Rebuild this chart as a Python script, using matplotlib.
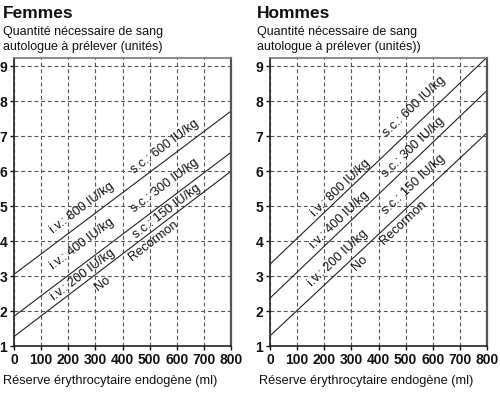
import numpy as np
import matplotlib
matplotlib.use("Agg")
import matplotlib.pyplot as plt

plt.rcParams['font.family'] = ['Liberation Sans', 'DejaVu Sans']

# Données
x_ends = [0, 800]
femmes_start = [3.05, 1.85, 1.27]
femmes_end = [7.72, 6.54, 6.00]
hommes_start = [3.34, 2.37, 1.29]
hommes_end = [9.26, 8.31, 7.10]

labels = ["i.v.: 800 IU/kg", "s.c.: 600 IU/kg",
          "i.v.: 400 IU/kg", "s.c.: 300 IU/kg",
          "i.v.: 200 IU/kg", "s.c.: 150 IU/kg",
          "No", "Recormon"]
label_line = [0, 0, 1, 1, 2, 2, 2, 2]
femmes_lx = [250, 557, 252, 557, 253, 565, 326, 516]
femmes_ly = [4.95, 6.71, 3.91, 5.60, 3.03, 4.85, 2.78, 4.00]
hommes_lx = [261, 531, 258, 529, 249, 529, 332, 492]
hommes_ly = [5.52, 7.86, 4.59, 6.67, 3.52, 5.62, 3.38, 4.52]

x_ticks = list(range(0, 801, 100))
y_ticks = list(range(1, 10))

fig = plt.figure(figsize=(5, 3.93), dpi=100)
W, H = 500, 393


def panel(left_px, starts, ends, lx, ly):
    ax = fig.add_axes([left_px / W, (H - 346) / H, 217 / W, 288 / H])
    ax.set_xlim(0, 800)
    ax.set_ylim(1, 9.24)
    ax.set_xticks(x_ticks)
    ax.set_yticks(y_ticks)
    ax.grid(True, color='#555555', linestyle=(0, (3.5, 2.5)), linewidth=0.8)
    ax.tick_params(length=3, width=1, pad=2, labelsize=10, colors='#111111')
    for lab in ax.get_xticklabels() + ax.get_yticklabels():
        lab.set_fontweight('bold')
    for s in ax.spines.values():
        s.set_color('#222222')
        s.set_linewidth(1.2)
    ax.spines['right'].set_color('#555555')
    ax.spines['right'].set_linewidth(1.6)
    ax.spines['top'].set_color('#777777')
    for s0, s1 in zip(starts, ends):
        ax.plot(x_ends, [s0, s1], color='#222222', linewidth=0.8)
    for text, k, x, y in zip(labels, label_line, lx, ly):
        ang = np.degrees(np.arctan2(ends[k] - starts[k], x_ends[1] - x_ends[0]))
        ax.text(x, y, text, rotation=ang, transform_rotates_text=True,
                rotation_mode='anchor', ha='center', va='center',
                fontsize=9.2, color='#111111')
    return ax


panel(14, femmes_start, femmes_end, femmes_lx, femmes_ly)
panel(270, hommes_start, hommes_end, hommes_lx, hommes_ly)

for x0, title, sub in [(3, "Femmes", "Quantité nécessaire de sang\nautologue à prélever (unités)"),
                       (257, "Hommes", "Quantité nécessaire de sang\nautologue à prélever (unités))")]:
    fig.text(x0 / W, 1 - 18 / H, title, fontsize=12.5, fontweight='bold',
             va='baseline', ha='left', color='#111111')
    fig.text(x0 / W, 1 - 50 / H, sub, fontsize=9, va='baseline', ha='left',
             linespacing=1.3, color='#111111')

fig.text(3 / W, 1 - 384 / H, "Réserve érythrocytaire endogène (ml)",
         fontsize=9.2, va='baseline', ha='left', color='#111111')
fig.text(259 / W, 1 - 384 / H, "Réserve érythrocytaire endogène (ml)",
         fontsize=9.2, va='baseline', ha='left', color='#111111')

fig.savefig("out.png", dpi=100)
